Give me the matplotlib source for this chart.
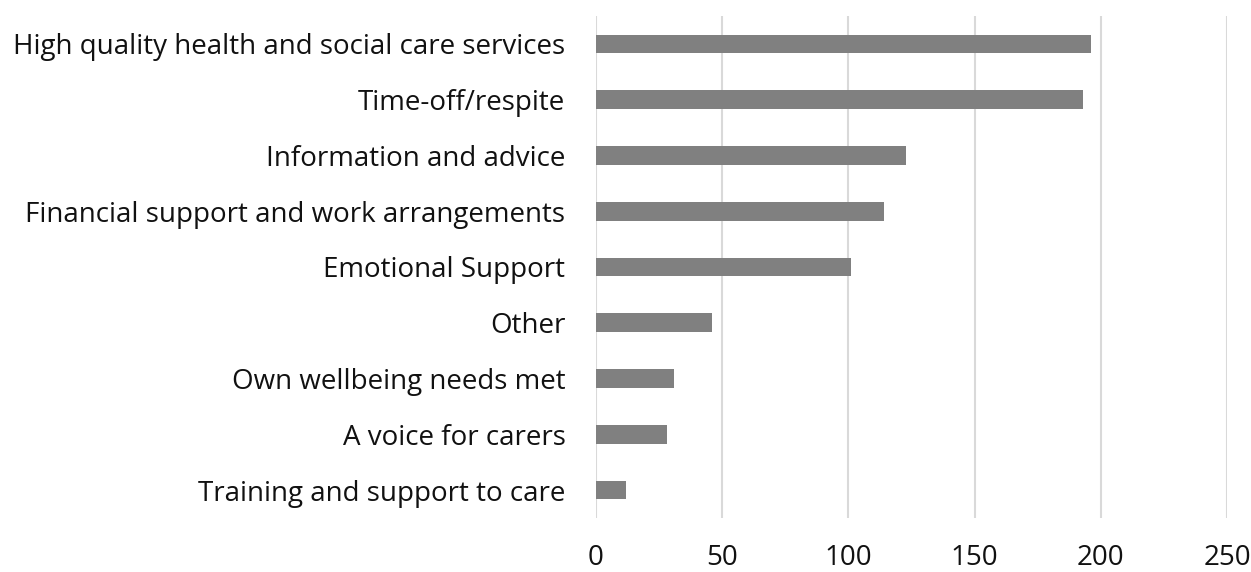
import matplotlib.pyplot as plt

# survey responses: what carers say would help them most
categories = [
    "High quality health and social care services",
    "Time-off/respite",
    "Information and advice",
    "Financial support and work arrangements",
    "Emotional Support",
    "Other",
    "Own wellbeing needs met",
    "A voice for carers",
    "Training and support to care",
]
counts = [196, 193, 123, 114, 101, 46, 31, 28, 12]
x_ticks = [0, 50, 100, 150, 200, 250]

plt.rcParams['font.family'] = ['Open Sans', 'DejaVu Sans']

fig = plt.figure(figsize=(12.51, 5.72), dpi=100)
ax = fig.add_axes([596 / 1251, 1 - 518 / 572, (1227 - 596) / 1251, (518 - 16) / 572])

pos = list(range(len(categories)))
ax.barh(pos, counts, height=0.335, color='#808080', zorder=2)

ax.set_xlim(0, 250)
ax.set_ylim(len(categories) - 0.5, -0.5)
ax.set_xticks(x_ticks)
ax.set_yticks(pos)
ax.set_yticklabels(categories)

ax.grid(axis='x', color='#d9d9d9', linewidth=1.5, zorder=0)
ax.grid(axis='y', visible=False)
for s in ax.spines.values():
    s.set_visible(False)

ax.tick_params(axis='y', length=0, pad=22, labelsize=20, labelcolor='#111111')
ax.tick_params(axis='x', length=0, pad=19, labelsize=20, labelcolor='#111111')

fig.savefig('out.png', dpi=100)
